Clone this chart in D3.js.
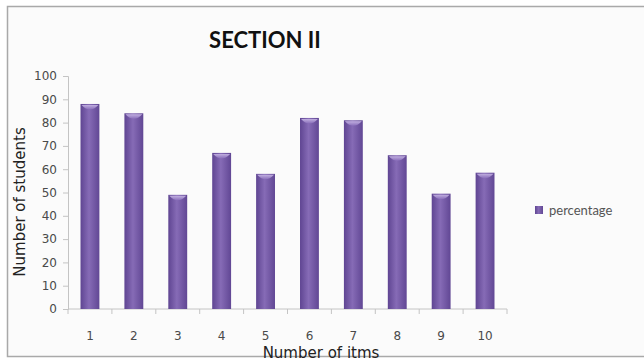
<!DOCTYPE html>
<html>
<head>
<meta charset="utf-8">
<script src="https://cdn.jsdelivr.net/npm/d3@7"></script>
<style>
  body { margin: 0; background: #fff; }
  svg { display: block; }
</style>
</head>
<body>
<div id="chart"></div>
<script>
// values
const items = ["1", "2", "3", "4", "5", "6", "7", "8", "9", "10"];
const percentage = [88, 84, 49, 67, 58, 82, 81, 66, 49.5, 58.5];
const yTicks = [0, 10, 20, 30, 40, 50, 60, 70, 80, 90, 100];

const width = 644, height = 362;
const margin = { top: 76, right: 137, bottom: 53, left: 68 };

const svg = d3.select("#chart").append("svg")
  .attr("width", width)
  .attr("height", height);

// chart area background + frame
svg.append("rect")
  .attr("x", 0).attr("y", 0)
  .attr("width", width).attr("height", height)
  .attr("fill", "#ffffff");
svg.append("rect")
  .attr("x", 7.5).attr("y", 6.5)
  .attr("width", width).attr("height", 350)
  .attr("fill", "#fbfbfb")
  .attr("stroke", "#a9a9a9")
  .attr("stroke-width", 1.5);

// gradient for the bars
const defs = svg.append("defs");
const grad = defs.append("linearGradient")
  .attr("id", "barGrad")
  .attr("x1", "0%").attr("x2", "100%");
grad.append("stop").attr("offset", "0%").attr("stop-color", "#5f4592");
grad.append("stop").attr("offset", "45%").attr("stop-color", "#866bb6");
grad.append("stop").attr("offset", "100%").attr("stop-color", "#614794");

const capGrad = defs.append("linearGradient")
  .attr("id", "capGrad")
  .attr("x1", "0%").attr("x2", "0%").attr("y1", "0%").attr("y2", "100%");
capGrad.append("stop").attr("offset", "0%").attr("stop-color", "#c9b8e6");
capGrad.append("stop").attr("offset", "100%").attr("stop-color", "#8a6fbb");

const innerW = width - margin.left - margin.right;
const innerH = height - margin.top - margin.bottom;

const x = d3.scaleBand()
  .domain(items)
  .range([0, innerW])
  .paddingInner(0.57)
  .paddingOuter(0.285);

const y = d3.scaleLinear()
  .domain([0, 100])
  .range([innerH, 0]);

const g = svg.append("g")
  .attr("transform", `translate(${margin.left},${margin.top})`);

// y axis
const yAxis = g.append("g")
  .call(d3.axisLeft(y).tickValues(yTicks).tickSize(5).tickPadding(6));
yAxis.select(".domain").attr("stroke", "#c4c4c4");
yAxis.selectAll(".tick line").attr("stroke", "#c4c4c4");
yAxis.selectAll(".tick text")
  .attr("fill", "#4a4a4a")
  .style("font-family", "'DejaVu Sans', sans-serif")
  .style("font-size", "12px");

// x axis: ticks sit between categories
const step = x.step();
const xAxis = g.append("g")
  .attr("transform", `translate(0,${innerH})`);
xAxis.append("line")
  .attr("x1", 0).attr("x2", innerW)
  .attr("stroke", "#c4c4c4");
xAxis.selectAll(".sep")
  .data(d3.range(items.length + 1))
  .join("line")
  .attr("class", "sep")
  .attr("x1", i => i * step).attr("x2", i => i * step)
  .attr("y1", 0).attr("y2", 5)
  .attr("stroke", "#c4c4c4");
xAxis.selectAll(".lbl")
  .data(items)
  .join("text")
  .attr("class", "lbl")
  .attr("x", d => x(d) + x.bandwidth() / 2)
  .attr("y", 31)
  .attr("text-anchor", "middle")
  .attr("fill", "#4a4a4a")
  .style("font-family", "'DejaVu Sans', sans-serif")
  .style("font-size", "12px")
  .text(d => d);

// bars
const bars = g.selectAll(".bar")
  .data(items.map((d, i) => ({ item: d, value: percentage[i] })))
  .join("g")
  .attr("class", "bar");

bars.append("rect")
  .attr("x", d => x(d.item))
  .attr("y", d => y(d.value))
  .attr("width", x.bandwidth())
  .attr("height", d => innerH - y(d.value))
  .attr("fill", "url(#barGrad)");

// little light cap on top of each bar
bars.append("path")
  .attr("d", d => {
    const x0 = x(d.item) + 1, x1 = x(d.item) + x.bandwidth() - 1;
    const top = y(d.value) + 1;
    const mid = (x0 + x1) / 2;
    return `M${x0},${top} L${x1},${top} Q${mid},${top + 9} ${x0},${top} Z`;
  })
  .attr("fill", "url(#capGrad)")
  .attr("opacity", 0.9);

// title
svg.append("text")
  .attr("x", 265)
  .attr("y", 48)
  .attr("text-anchor", "middle")
  .style("font-family", "Lato, sans-serif")
  .style("font-weight", "bold")
  .style("font-size", "22px")
  .attr("fill", "#111")
  .text("SECTION II");

// axis titles
svg.append("text")
  .attr("transform", "translate(25,202) rotate(-90)")
  .attr("text-anchor", "middle")
  .style("font-family", "'DejaVu Sans', sans-serif")
  .style("font-size", "15px")
  .attr("fill", "#222")
  .text("Number of students");

svg.append("text")
  .attr("x", 321)
  .attr("y", 358)
  .attr("text-anchor", "middle")
  .style("font-family", "'DejaVu Sans', sans-serif")
  .style("font-size", "15px")
  .attr("fill", "#222")
  .text("Number of itms");

// legend
const legend = svg.append("g").attr("transform", "translate(535,206)");
legend.append("rect")
  .attr("width", 8).attr("height", 8)
  .attr("fill", "url(#barGrad)");
legend.append("text")
  .attr("x", 14).attr("y", 8.5)
  .style("font-family", "Lato, sans-serif")
  .style("font-size", "13px")
  .attr("fill", "#555")
  .text("percentage");
</script>
</body>
</html>
